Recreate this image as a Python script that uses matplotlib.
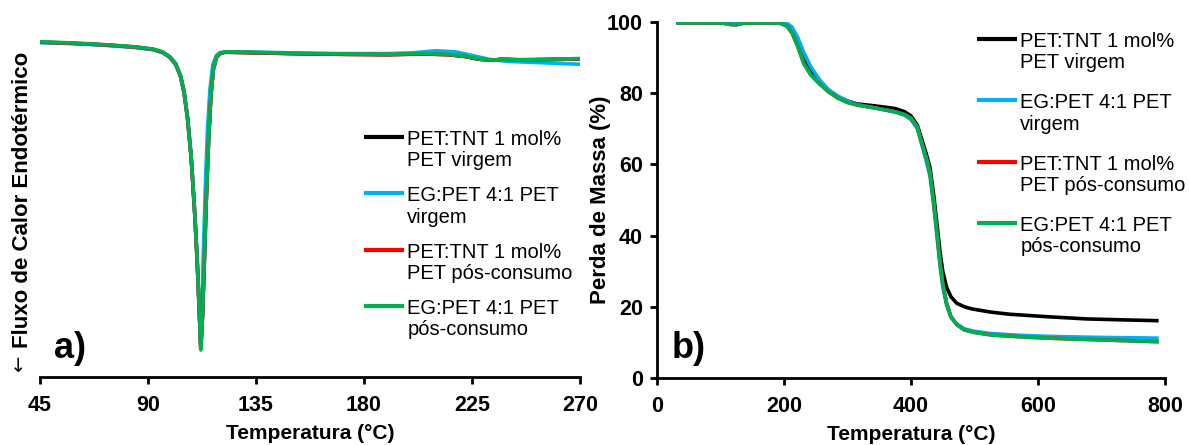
import matplotlib
matplotlib.use("Agg")
import matplotlib.pyplot as plt

# ---------------- DATA ----------------
labels = ["PET:TNT 1 mol%\nPET virgem", "EG:PET 4:1 PET\nvirgem",
          "PET:TNT 1 mol%\nPET pós-consumo", "EG:PET 4:1 PET\npós-consumo"]
colors = ["#000000", "#00B0F0", "#FF0000", "#00B050"]

# DSC (panel a) - arbitrary heat flow units (endo down)
dsc_green_T = [45, 55, 65, 75, 85, 92, 96, 99, 101.5, 103.5, 105, 106.5, 108, 109.5, 110.5, 111.3, 112,
               112.7, 113.5, 114.3, 115.2, 116.2, 117.2, 118.5, 120, 122, 130, 150, 170, 190, 205, 215,
               222, 228, 234, 237, 245, 255, 270]
dsc_green_v = [94.4, 94.2, 93.9, 93.5, 93.0, 92.4, 91.6, 90.3, 88.3, 85.0, 80.5, 73, 62, 46, 33, 20, 7.6,
               17, 33, 50, 66, 79, 86.5, 90.0, 91.2, 91.6, 91.5, 91.2, 91.0, 90.9, 91.1, 90.9,
               90.4, 89.6, 89.2, 89.6, 89.4, 89.5, 89.7]
dsc_blue_T = [45, 55, 65, 75, 85, 92, 96, 99, 101.5, 103.5, 105, 106.5, 108, 109.5, 110.5, 111.3, 112,
              112.5, 113.2, 114, 114.8, 115.8, 117, 118.5, 120, 130, 150, 170, 190, 200, 210, 218,
              225, 232, 240, 255, 270]
dsc_blue_v = [94.2, 94.0, 93.7, 93.3, 92.8, 92.2, 91.4, 90.0, 88.0, 84.6, 80, 72.5, 61.5, 45.5, 32, 19, 8.5,
              20, 38, 56, 70, 81, 88, 90.6, 91.4, 91.6, 91.3, 91.1, 91.1, 91.3, 91.9, 91.6,
              90.6, 89.5, 88.9, 88.5, 88.1]
dsc_black_T = dsc_green_T
dsc_black_v = [94.3, 94.1, 93.8, 93.4, 92.9, 92.3, 91.5, 90.2, 88.2, 84.9, 80.4, 72.8, 61.8, 45.8, 32.8, 19.8, 8.0,
               17.2, 33.2, 50.2, 66.2, 79.2, 86.6, 90.0, 91.1, 91.5, 91.4, 91.1, 90.9, 90.8, 91.0, 90.8,
               90.3, 89.5, 89.2, 89.5, 89.3, 89.4, 89.6]
dsc_red_T = dsc_green_T
dsc_red_v = dsc_black_v

# TGA (panel b) - mass %
tga_black_T = [30, 120, 130, 140, 195, 205, 213, 222, 231, 242, 255, 270, 285, 300, 315, 345, 375, 390, 400,
               410, 417, 424, 430, 436, 441, 446, 450, 456, 463, 472, 484, 496, 526, 556, 616, 676, 740, 790]
tga_black_m = [99.8, 99.8, 100.1, 99.8, 99.8, 99.3, 97.5, 94, 89.8, 86.2, 83.5, 80.8, 79.0, 77.8, 77.0, 76.4,
               75.7, 74.8, 73.6, 71.0, 67, 63, 59, 51, 43, 35, 30, 25.5, 22.8, 21.0, 20.0, 19.4, 18.5, 17.9,
               17.2, 16.6, 16.3, 16.1]
tga_blue_T = [30, 195, 205, 213, 222, 231, 242, 255, 270, 285, 300, 315, 345, 375, 390, 400, 410, 417, 424,
              430, 436, 441, 446, 450, 456, 463, 472, 484, 500, 526, 570, 616, 700, 790]
tga_blue_m = [99.8, 99.8, 99.6, 98.5, 95.5, 91.5, 87.5, 84, 81, 79.2, 77.8, 76.8, 75.8, 74.7, 73.8, 72.6, 70,
              65.5, 61, 56.5, 48, 39.5, 31, 25.8, 20.5, 17, 15.2, 13.8, 13.1, 12.5, 12.0, 11.7, 11.4, 11.2]
tga_green_T = [30, 100, 115, 125, 135, 150, 180, 195, 205, 213, 222, 231, 242, 255, 270, 285, 300, 315, 345,
               375, 390, 400, 410, 417, 424, 430, 436, 441, 446, 450, 456, 463, 472, 484, 500, 526, 570, 616,
               700, 790]
tga_green_m = [99.8, 99.8, 99.3, 99.2, 99.6, 99.8, 99.8, 99.6, 98.8, 96.8, 93, 88.4, 85.2, 82.8, 80.4, 78.6,
               77.4, 76.7, 75.8, 74.8, 74.0, 73.0, 70.5, 66, 62, 57.6, 49, 40.7, 32, 26.6, 21, 17.2, 15.0, 13.5,
               12.8, 12.1, 11.6, 11.2, 10.7, 10.2]
tga_red_T = tga_green_T
tga_red_m = tga_green_m

dsc_xticks = [45, 90, 135, 180, 225, 270]
tga_xticks = [0, 200, 400, 600, 800]
tga_yticks = [0, 20, 40, 60, 80, 100]

# ---------------- PLOT ----------------
plt.rcParams['font.family'] = ['Liberation Sans', 'DejaVu Sans']
W, H = 1189, 445
fig = plt.figure(figsize=(W / 100, H / 100), dpi=100)

def fx(px):
    return px / W

def fy(py):
    return 1 - py / H

axA = fig.add_axes([fx(40), fy(377), fx(580) - fx(40), fy(22) - fy(377)])
axB = fig.add_axes([fx(657), fy(378), fx(1165) - fx(657), fy(22) - fy(378)])

lw = 2.6
dsc = [(dsc_black_T, dsc_black_v), (dsc_blue_T, dsc_blue_v), (dsc_red_T, dsc_red_v), (dsc_green_T, dsc_green_v)]
tga = [(tga_black_T, tga_black_m), (tga_blue_T, tga_blue_m), (tga_red_T, tga_red_m), (tga_green_T, tga_green_m)]

for (t, v), c, lab in zip(dsc, colors, labels):
    axA.plot(t, v, color=c, lw=lw, label=lab, solid_capstyle='butt')
for (t, v), c, lab in zip(tga, colors, labels):
    axB.plot(t, v, color=c, lw=lw, label=lab, solid_capstyle='butt')

axA.set_xlim(45, 270)
axA.set_ylim(0, 100)
axA.set_xticks(dsc_xticks)
axA.set_yticks([])
for s in ['left', 'right', 'top']:
    axA.spines[s].set_visible(False)
axA.spines['bottom'].set_linewidth(2)

axB.set_xlim(0, 800)
axB.set_ylim(0, 100)
axB.set_xticks(tga_xticks)
axB.set_yticks(tga_yticks)
for s in ['right', 'top']:
    axB.spines[s].set_visible(False)
axB.spines['bottom'].set_linewidth(2)
axB.spines['left'].set_linewidth(2)

for ax in (axA, axB):
    ax.tick_params(direction='out', length=5, width=2, labelsize=15.5, pad=5)
    ax.tick_params(axis='x', pad=8)
    for lbl in ax.get_xticklabels() + ax.get_yticklabels():
        lbl.set_fontweight('bold')
    ax.set_xlabel("Temperatura (°C)", fontsize=15, fontweight='bold', labelpad=6)

axA.set_ylabel("Fluxo de Calor Endotérmico", fontsize=16, fontweight='bold', labelpad=5)
fig.text(fx(19), fy(364), "←", rotation=90, fontsize=14, ha='center', va='center',
         family=['DejaVu Sans'])
axB.set_ylabel("Perda de Massa (%)", fontsize=16, fontweight='bold', labelpad=-3)

axA.text(fx(54), fy(358), "a)", transform=fig.transFigure, fontsize=26, fontweight='bold', ha='left', va='baseline')
axB.text(fx(672), fy(358), "b)", transform=fig.transFigure, fontsize=26, fontweight='bold', ha='left', va='baseline')

def make_legend(ax, x0, y0, spacing):
    leg = ax.legend(loc='upper left', bbox_to_anchor=(fx(x0), fy(y0)), bbox_transform=fig.transFigure,
                    frameon=False, fontsize=14.5, handlelength=2.0, handletextpad=0.15,
                    labelspacing=spacing, borderpad=0, borderaxespad=0)
    try:
        for col in leg._legend_handle_box.get_children():
            for item in col.get_children():
                item.align = "top"
    except Exception:
        pass
    for t in leg.get_texts():
        t.set_linespacing(1.15)
    for line in leg.get_lines():
        line.set_linewidth(3)
    return leg

make_legend(axA, 364, 130, 0.8)
make_legend(axB, 977, 32, 1.05)

fig.savefig("out.png", dpi=100)
